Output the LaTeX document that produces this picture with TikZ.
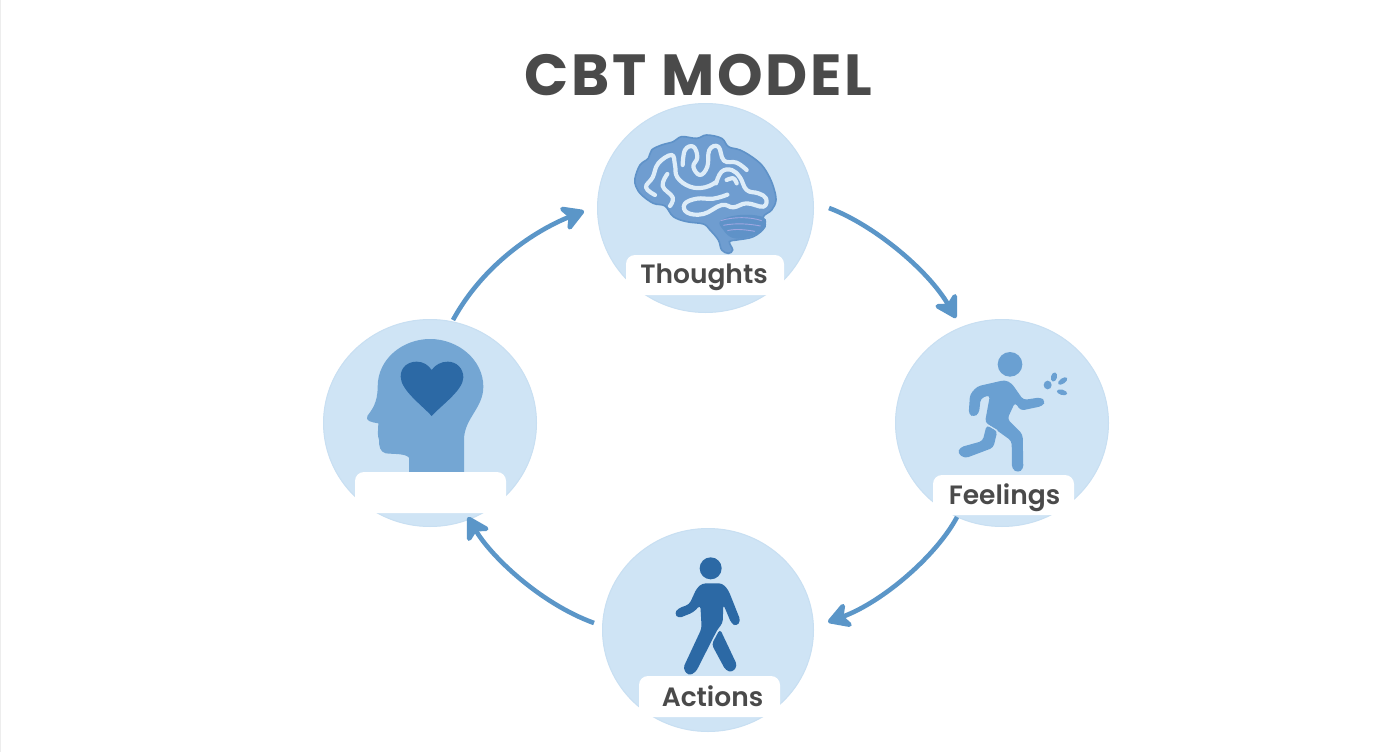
\documentclass[tikz,border=0pt]{standalone}
\usepackage{fontspec}
\setmainfont{Poppins}
\newfontfamily\labelfont{Poppins SemiBold}
\newfontfamily\titlefont[LetterSpace=4.6]{Poppins}
\usetikzlibrary{arrows.meta,calc,shapes.geometric}
\definecolor{disc}{HTML}{CFE4F5}
\definecolor{discedge}{HTML}{C8DFF2}
\definecolor{arrowblue}{HTML}{5B96C8}
\definecolor{txt}{HTML}{4A4A4A}
\definecolor{brainblue}{HTML}{6F9DD0}
\definecolor{brainedge}{HTML}{5F92C8}
\definecolor{sulcus}{HTML}{DDECF8}
\definecolor{headblue}{HTML}{74A6D3}
\definecolor{deepblue}{HTML}{2C69A5}
\definecolor{runblue}{HTML}{6AA0D2}
\tikzset{
 discnode/.style={ellipse,fill=disc,draw=discedge,line width=1pt,inner sep=0pt},
 flow/.style={draw=arrowblue,line width=4.6pt,-{Stealth[length=27pt,width=31pt,inset=8pt,round]}},
 labelbox/.style={fill=white,rounded corners=9pt},
 labeltext/.style={text=txt,font=\fontsize{26.5}{30}\labelfont,inner sep=0pt},
}
\begin{document}
\begin{tikzpicture}[x=1pt,y=-1pt]
\useasboundingbox (0,0) rectangle (1392,752);
\fill[white] (0,0) rectangle (1392,752);
\draw[black!7,line width=1pt] (0.5,0) -- (0.5,752);
\node[text=txt,font=\fontsize{58}{64}\titlefont\bfseries,inner sep=0pt] (title) at (698.5,75) {CBT MODEL};
\node[discnode,minimum width=216pt,minimum height=209pt] (T) at (705.5,208) {};
\node[discnode,minimum width=213pt,minimum height=207pt] (L) at (430,423) {};
\node[discnode,minimum width=213pt,minimum height=207pt] (R) at (1002,423) {};
\node[discnode,minimum width=211pt,minimum height=203pt] (B) at (708,630) {};
% connectors
\draw[flow] ([shift={(23,-103)}]L.center) .. controls +(30,-55) and +(-50,20) .. ([shift={(-121.5,3)}]T.center);
\draw[flow] ([shift={(123.5,0)}]T.center) .. controls +(45,17) and +(-28,-48) .. ([shift={(-46,-105)}]R.center);
\draw[flow] ([shift={(-45,94)}]R.center) .. controls +(-20,38) and +(55,-20) .. ([shift={(120,-8)}]B.center);
\draw[flow] ([shift={(-114,-7)}]B.center) .. controls +(-55,-20) and +(22,38) .. ([shift={(38,94)}]L.center);
% brain
\begin{scope}[shift={(590,100)},scale=1/3]
\draw[fill=brainblue,draw=brainedge,line width=1.6pt] plot[smooth cycle,tension=.6] coordinates {(135,235)(150,195)(175,175)(185,150)(215,135)(250,125)(275,110)(320,115)(350,105)(395,115)(415,140)(450,150)(485,170)(515,195)(535,225)(550,260)(558,300)(545,330)(520,350)(525,380)(490,410)(440,420)(418,425)(428,450)(415,460)(395,450)(385,420)(360,390)(340,372)(290,365)(250,350)(225,318)(190,310)(155,285)(138,260)};
\fill[brainedge] plot[smooth cycle,tension=.7] coordinates {(392,362)(450,345)(520,352)(522,382)(485,408)(432,415)(400,390)};
\draw[line width=.9pt,color=blue!25!sulcus!80!gray] (392,362) .. controls (430,350) and (480,350) .. (515,362);
\draw[line width=.9pt,color=blue!25!sulcus!80!gray] (400,376) .. controls (440,368) and (480,372) .. (512,378);
\draw[line width=.9pt,color=blue!25!sulcus!80!gray] (412,392) .. controls (440,385) and (470,390) .. (495,394);
\begin{scope}[draw=sulcus,line width=4.2pt,line cap=round,line join=round]
\draw plot[smooth,tension=.7] coordinates {(195,285)(168,262)(188,232)(205,190)(245,165)(255,195)(262,232)(300,260)(345,262)(380,245)};
\draw plot[smooth,tension=.7] coordinates {(232,222)(218,258)(248,292)(240,318)};
\draw plot[smooth,tension=.7] coordinates {(278,195)(285,150)(310,140)(322,172)(310,200)(330,225)(352,200)(358,150)(385,140)(402,182)(440,188)(470,210)};
\draw plot[smooth,tension=.7] coordinates {(378,250)(395,215)(425,210)(450,232)(470,270)(505,280)(528,295)(520,320)(470,310)(430,322)(395,315)(340,342)(292,338)(284,312)(320,296)(370,296)(412,284)};
\draw plot[smooth,tension=.7] coordinates {(410,240)(430,235)(440,250)};
\end{scope}
\end{scope}
% head
\begin{scope}[shift={(315,315)},scale=1/3]
\fill[headblue] (282,472) -- (282,428) .. controls (270,415) and (240,418) .. (212,415)
 .. controls (195,410) and (192,395) .. (192,375) .. controls (186,360) and (190,345) .. (190,325)
 .. controls (170,322) and (150,318) .. (157,303) .. controls (170,285) and (188,265) .. (188,215)
 .. controls (188,130) and (265,72) .. (345,72) .. controls (430,72) and (505,135) .. (505,215)
 .. controls (505,280) and (447,310) .. (447,375) -- (447,472) -- cycle;
\fill[deepblue] (350,303) .. controls (320,270) and (257,225) .. (257,185)
 .. controls (257,155) and (280,140) .. (305,140) .. controls (325,140) and (340,150) .. (350,165)
 .. controls (360,150) and (378,140) .. (398,140) .. controls (425,140) and (445,160) .. (445,187)
 .. controls (445,225) and (380,270) .. (350,303) -- cycle;
\end{scope}
% runner
\begin{scope}[shift={(890,315)},scale=1/3]
\fill[runblue] (360,148) circle (37);
\fill[runblue,rounded corners=3.5pt] (345,195) -- (262,214) -- (240,238) -- (236,298) -- (252,306) -- (267,295) -- (272,250) -- (300,240) -- (285,322) -- (315,342) -- (365,378) -- (366,462) -- (384,473) -- (400,462) -- (398,358) -- (352,312) -- (375,262) -- (392,287) -- (458,273) -- (466,258) -- (452,247) -- (400,255) -- (365,205) -- cycle;
\fill[runblue,rounded corners=3.5pt] (290,330) -- (322,348) -- (310,398) -- (225,430) -- (203,415) -- (210,397) -- (278,378) -- cycle;
\draw[disc,line width=1.2pt] (283,324) -- (322,347);
\fill[runblue] (473,210) ellipse (12 and 13);
\fill[runblue,rotate around={-15:(492,186)}] (492,186) ellipse (9 and 14);
\fill[runblue,rotate around={35:(518,198)}] (518,198) ellipse (16 and 8);
\fill[runblue,rotate around={-15:(516,232)}] (516,232) ellipse (16 and 8);
\end{scope}
% walker
\begin{scope}[shift={(595,525)},scale=1/3]
\fill[deepblue] (347,130) circle (33);
\fill[deepblue,rounded corners=3.5pt] (375,312) -- (427,422) -- (412,442) -- (392,436) -- (350,358) -- cycle;
\fill[deepblue,rounded corners=3.5pt] (322,175) -- (382,175) -- (400,195) -- (437,288) -- (424,304) -- (409,295) -- (385,238) -- (383,295) -- (368,312) -- (302,442) -- (280,452) -- (264,430) -- (320,310) -- (316,240) -- (295,262) -- (250,280) -- (238,265) -- (250,250) -- (283,238) -- (305,190) -- cycle;
\end{scope}
% label boxes
\fill[labelbox] (626,295) -- (626,255) -- (784,255) -- (784,295) -- cycle;
\fill[labelbox] (355,513) -- (355,472) -- (506,472) -- (506,513) -- cycle;
\fill[labelbox] (933,515) -- (933,475) -- (1074,475) -- (1074,515) -- cycle;
\fill[labelbox] (639,717) -- (639,676) -- (780,676) -- (780,717) -- cycle;
\node[labeltext] (tT) at (704,277.5) {Thoughts};
\node[labeltext] (tR) at (1004.5,497.5) {Feelings};
\node[labeltext] (tB) at (712.5,696.5) {Actions};
\end{tikzpicture}
\end{document}
